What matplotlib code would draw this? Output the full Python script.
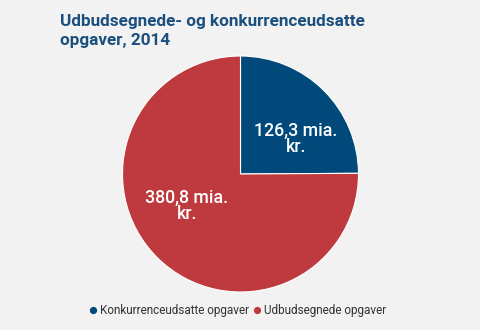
import matplotlib
matplotlib.use("Agg")
import matplotlib.pyplot as plt
from matplotlib.lines import Line2D

categories = ["Konkurrenceudsatte opgaver", "Udbudsegnede opgaver"]
values = [126.3, 380.8]
labels = ["126,3 mia.\nkr.", "380,8 mia.\nkr."]
colors = ["#00497a", "#be3a3e"]
title_lines = ["Udbudsegnede- og konkurrenceudsatte", "opgaver, 2014"]

plt.rcParams['font.family'] = ['Roboto', 'DejaVu Sans']
bg = "#f2f2f2"
W, H = 480, 330
fig = plt.figure(figsize=(4.8, 3.3), dpi=100, facecolor=bg)

cx, cy, r = 240.5, 174, 118
ax = fig.add_axes([(cx - r) / W, (H - cy - r) / H, 2 * r / W, 2 * r / H])
ax.set_facecolor(bg)
wedges, _ = ax.pie(values, colors=colors, startangle=90, counterclock=False,
                   wedgeprops=dict(edgecolor="white", linewidth=0.8))
ax.set_xlim(-1, 1)
ax.set_ylim(-1, 1)
ax.set_aspect('auto')
ax.axis('off')

# label anchor (data coords, first-line baseline)
label_pos = [(0.47, 0.325), (-0.453, -0.243)]
line_step_pt = 11.8
for (lx, ly), t in zip(label_pos, labels):
    for i, line in enumerate(t.split("\n")):
        ax.annotate(line, (lx, ly), xytext=(0, -i * line_step_pt),
                    textcoords='offset points', ha='center', va='baseline',
                    color='white', fontsize=12.8, fontweight='medium')

for i, line in enumerate(title_lines):
    fig.text(60.5 / W, 1 - (26 + i * 18.5) / H, line, ha='left', va='baseline',
             fontsize=12.3, fontweight='bold', color='#1a4f7e')

handles = [Line2D([], [], marker='o', linestyle='none', markersize=4.2,
                  markerfacecolor=c, markeredgecolor=c) for c in colors]
fig.legend(handles, categories, loc='center', ncol=2,
           bbox_to_anchor=(238.5 / W, 1 - 310.5 / H), frameon=False,
           fontsize=8.5, labelcolor='#333333', handlelength=0.5,
           handletextpad=0.35, columnspacing=0.4, borderpad=0)

fig.savefig("out.png", dpi=100, facecolor=bg)
